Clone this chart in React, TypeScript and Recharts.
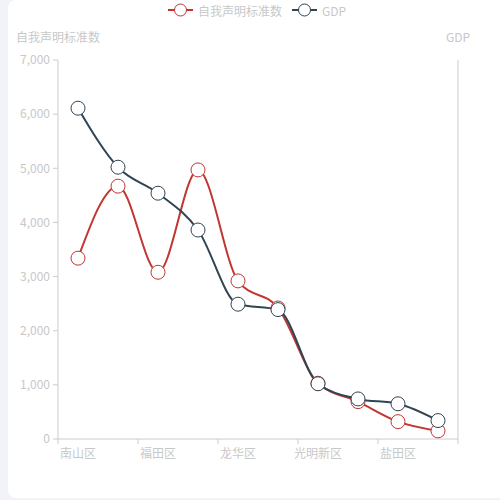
import React from 'react'
import { LineChart, Line, XAxis, YAxis, Legend } from 'recharts'

const categories = ['南山区', '宝安区', '福田区', '龙岗区', '龙华区', '罗湖区', '光明新区', '坪山区', '盐田区', '大鹏新区']
const standardCounts = [3340, 4670, 3080, 4970, 2920, 2420, 1030, 690, 320, 150]
const gdpValues = [6110, 5020, 4540, 3860, 2490, 2390, 1020, 740, 650, 340]
const yTicks = [0, 1000, 2000, 3000, 4000, 5000, 6000, 7000]
const xTicks = [-0.5, 1.5, 3.5, 5.5, 7.5, 9.5]

const RED = '#c23531'
const DARK = '#2f4554'
const TEXT = '#c8c8c8'
const AXIS = '#cccccc'
const FONT = "'Noto Sans CJK SC', 'Noto Sans', sans-serif"

const PLOT_W = 400
const HALF_BAND = PLOT_W / categories.length / 2

const data = categories.map((name, i) => ({
  idx: i,
  name,
  std: standardCounts[i],
  gdp: gdpValues[i]
}))

const fmt = (v: number) => v.toLocaleString('en-US')

const XTick = (props: any) => {
  const { x, y, payload } = props
  const i = Math.round(payload.value + 0.5)
  if (i >= categories.length) return null
  return (
    <text x={x + HALF_BAND} y={y + 12} textAnchor="middle" fill={TEXT} fontSize={12} fontFamily={FONT}>
      {categories[i]}
    </text>
  )
}

const AxisName = ({ viewBox, value, side }: any) => {
  const x = side === 'left' ? viewBox.x + viewBox.width : viewBox.x
  return (
    <text x={x} y={viewBox.y - 18} textAnchor="middle" fill={TEXT} fontSize={12} fontFamily={FONT}>
      {value}
    </text>
  )
}

const LegendIcon = ({ color }: { color: string }) => (
  <svg width={25} height={14} style={{ verticalAlign: 'middle' }}>
    <line x1={0} y1={7} x2={25} y2={7} stroke={color} strokeWidth={2} />
    <circle cx={12.5} cy={7} r={6} fill="#fff" stroke={color} strokeWidth={1} />
  </svg>
)

const renderLegend = () => (
  <div style={{ height: 20, display: 'flex', justifyContent: 'flex-start', alignItems: 'center', paddingLeft: 168, fontFamily: FONT, fontSize: 12, color: TEXT }}>
    <LegendIcon color={RED} />
    <span style={{ marginLeft: 5, marginRight: 10 }}>自我声明标准数</span>
    <LegendIcon color={DARK} />
    <span style={{ marginLeft: 5 }}>GDP</span>
  </div>
)

export default function App() {
  return (
    <div style={{ position: 'absolute', left: 0, top: 0, width: 500, height: 500, background: '#f2f3f8', overflow: 'hidden' }}>
      <div style={{ position: 'absolute', left: 8, top: 0, width: 510, height: 498, background: '#fff', borderRadius: 8 }} />
      <div style={{ position: 'absolute', left: 0, top: 0 }}>
        <LineChart width={500} height={500} data={data} margin={{ top: 40, right: 41, bottom: 31, left: 0 }}>
          <Legend verticalAlign="top" align="center" content={renderLegend} wrapperStyle={{ top: 0, left: 0, width: 500 }} />
          <XAxis
            dataKey="idx"
            type="number"
            domain={[-0.5, 9.5]}
            ticks={xTicks}
            interval={0}
            height={30}
            tickSize={5}
            stroke={AXIS}
            tick={<XTick />}
            allowDecimals
          />
          <YAxis
            yAxisId="left"
            domain={[0, 7000]}
            ticks={yTicks}
            width={58}
            tickSize={5}
            tickMargin={3}
            stroke={AXIS}
            tick={{ fill: TEXT, fontSize: 12, fontFamily: FONT }}
            tickFormatter={fmt}
            label={{ value: '自我声明标准数', content: (p: any) => <AxisName {...p} value="自我声明标准数" side="left" /> }}
          />
          <YAxis
            yAxisId="right"
            orientation="right"
            domain={[0, 7000]}
            ticks={yTicks}
            width={1}
            tick={false}
            tickLine={false}
            stroke={AXIS}
            label={{ value: 'GDP', content: (p: any) => <AxisName {...p} value="GDP" side="right" /> }}
          />
          <Line
            yAxisId="left"
            type="monotone"
            dataKey="std"
            name="自我声明标准数"
            stroke={RED}
            strokeWidth={2}
            dot={{ r: 7, fill: '#fff', stroke: RED, strokeWidth: 1 }}
            activeDot={false}
            isAnimationActive={false}
          />
          <Line
            yAxisId="right"
            type="monotone"
            dataKey="gdp"
            name="GDP"
            stroke={DARK}
            strokeWidth={2}
            dot={{ r: 7, fill: '#fff', stroke: DARK, strokeWidth: 1 }}
            activeDot={false}
            isAnimationActive={false}
          />
        </LineChart>
      </div>
    </div>
  )
}
